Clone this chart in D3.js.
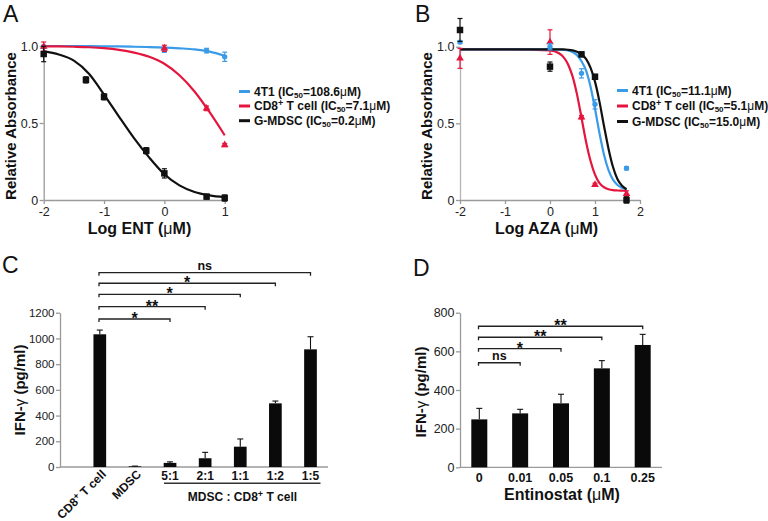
<!DOCTYPE html>
<html><head><meta charset="utf-8">
<script src="https://cdn.jsdelivr.net/npm/d3@7"></script>
<style>
html,body{margin:0;padding:0;background:#fff;}
svg{display:block;font-family:"Liberation Sans",Arial,Helvetica,sans-serif;}
</style></head><body>
<svg id="fig" width="768" height="521"></svg>
<script>
// ================= DATA =================
const seriesNames = ["4T1", "CD8+ T cell", "G-MDSC"];
const icEnt = ["108.6", "7.1", "0.2"];
const icAza = ["11.1", "5.1", "15.0"];

// Panel A (ENT) measured points: log dose, relative absorbance, error
const aX_4T1 = [-2, 0, 0.7, 1];
const aY_4T1 = [0.995, 0.974, 0.97, 0.93];
const aE_4T1 = [0.01, 0.015, 0.015, 0.03];
const aX_CD8 = [-2, 0, 0.7, 1];
const aY_CD8 = [0.996, 0.985, 0.595, 0.357];
const aE_CD8 = [0.03, 0.02, 0.015, 0.01];
const aX_MDSC = [-2, -1.3, -1, -0.3, 0, 0.7, 1];
const aY_MDSC = [0.948, 0.78, 0.67, 0.32, 0.173, 0.022, 0.013];
const aE_MDSC = [0.05, 0.02, 0.02, 0.02, 0.03, 0.015, 0.02];
// Panel A fitted curves
const aCurveX = [-2, -1.75, -1.5, -1.25, -1, -0.75, -0.5, -0.25, 0, 0.25, 0.5, 0.75, 1];
const aCurve4T1 = [1.0, 1.0, 1.0, 0.999, 0.998, 0.997, 0.995, 0.993, 0.99, 0.985, 0.978, 0.963, 0.937];
const aCurveCD8 = [0.998, 0.997, 0.995, 0.992, 0.986, 0.975, 0.957, 0.93, 0.885, 0.81, 0.705, 0.57, 0.42];
const aCurveMDSC = [0.965, 0.945, 0.905, 0.82, 0.685, 0.54, 0.40, 0.275, 0.167, 0.095, 0.052, 0.03, 0.018];

// Panel B (AZA) measured points
const bX_4T1 = [-2, 0, 0.7, 1, 1.7];
const bY_4T1 = [1.03, 1.0, 0.826, 0.624, 0.207];
const bE_4T1 = [0.01, 0.02, 0.03, 0.03, 0.01];
const bX_CD8 = [-2, 0, 0.7, 1, 1.7];
const bY_CD8 = [0.924, 1.03, 0.54, 0.1, 0.04];
const bE_CD8 = [0.065, 0.08, 0.01, 0.01, 0.02];
const bX_MDSC = [-2, 0, 0.7, 1, 1.7];
const bY_MDSC = [1.109, 0.87, 0.95, 0.804, 0.0];
const bE_MDSC = [0.075, 0.03, 0.015, 0.015, 0.02];
// Panel B fitted curves
const bCurveX = [-2, -1, 0, 0.2, 0.3, 0.4, 0.5, 0.6, 0.7, 0.8, 0.9, 1.0, 1.1, 1.2, 1.3, 1.4, 1.5, 1.6, 1.7];
const bCurve4T1 = [0.983, 0.983, 0.982, 0.981, 0.979, 0.975, 0.965, 0.945, 0.905, 0.845, 0.74, 0.595, 0.435, 0.295, 0.195, 0.133, 0.098, 0.08, 0.068];
const bCurveCD8 = [0.983, 0.983, 0.976, 0.957, 0.932, 0.886, 0.808, 0.689, 0.537, 0.382, 0.256, 0.165, 0.11, 0.083, 0.07, 0.064, 0.062, 0.061, 0.06];
const bCurveMDSC = [0.983, 0.983, 0.983, 0.982, 0.982, 0.98, 0.976, 0.967, 0.95, 0.92, 0.863, 0.772, 0.64, 0.483, 0.335, 0.215, 0.135, 0.093, 0.07];

// Panel C (IFN-gamma, co-culture)
const cCats = ["CD8+ T cell", "MDSC", "5:1", "2:1", "1:1", "1:2", "1:5"];
const cVals = [1032, 5, 32, 68, 158, 495, 915];
const cErr = [33, 2, 8, 46, 60, 18, 98];
const cSigTo = ["5:1", "2:1", "1:1", "1:2", "1:5"];
const cSigLabel = ["*", "**", "*", "*", "ns"];
const cSigLevel = [1151, 1247, 1343, 1429, 1511];
const cYTicks = [0, 200, 400, 600, 800, 1000, 1200];

// Panel D (IFN-gamma, entinostat)
const dCats = ["0", "0.01", "0.05", "0.1", "0.25"];
const dVals = [248, 279, 331, 512, 633];
const dErr = [57, 21, 47, 40, 55];
const dSigTo = ["0.01", "0.05", "0.1", "0.25"];
const dSigLabel = ["ns", "*", "**", "**"];
const dSigLevel = [541, 614, 673, 730];
const dYTicks = [0, 200, 400, 600, 800];

// ================= DRAWING =================
const svg = d3.select("#fig");
svg.append("rect").attr("width", 768).attr("height", 521).attr("fill", "#fff");
const colors = ["#3a9be8", "#e4163d", "#111111"];
const symbols = [d3.symbolCircle, d3.symbolTriangle, d3.symbolSquare];
const symSizes = [22, 26, 42];
const AX = "#9a9a9a";
const FONT = '"Liberation Sans", Arial, Helvetica, sans-serif';

function styleAxis(g, fs) {
  g.attr("font-family", FONT).attr("font-size", fs || 12);
  g.select(".domain").attr("stroke", AX).attr("stroke-width", 1.3);
  g.selectAll(".tick line").attr("stroke", AX).attr("stroke-width", 1.3);
  g.selectAll(".tick text").attr("fill", "#222");
}

function panelLetter(txt, x, y) {
  svg.append("text").attr("x", x).attr("y", y).attr("font-size", 23)
    .attr("font-family", FONT).attr("fill", "#111").text(txt);
}

function yTitle(x, y, parts) {
  const t = svg.append("text").attr("transform", `translate(${x},${y}) rotate(-90)`)
    .attr("text-anchor", "middle").attr("font-weight", "bold").attr("font-size", 15)
    .attr("fill", "#111");
  parts.forEach(p => {
    const s = t.append("tspan").text(p.t);
    if (p.normal) s.attr("font-weight", "normal");
  });
}

function xTitle(x, y, parts, fs) {
  const t = svg.append("text").attr("x", x).attr("y", y)
    .attr("text-anchor", "middle").attr("font-weight", "bold").attr("font-size", fs || 16)
    .attr("fill", "#111");
  parts.forEach(p => {
    const s = t.append("tspan").text(p.t);
    if (p.normal) s.attr("font-weight", "normal");
  });
}

function nameTspans(t, name) {
  if (name.indexOf("+") >= 0) {
    const [a, b] = name.split("+");
    t.append("tspan").text(a);
    t.append("tspan").attr("font-size", 9).attr("dy", -4).text("+");
    t.append("tspan").attr("dy", 4).text(b);
  } else {
    t.append("tspan").text(name);
  }
}

function legend(x0, ys, ics) {
  seriesNames.forEach((n, i) => {
    svg.append("line").attr("x1", x0).attr("x2", x0 + 11).attr("y1", ys[i]).attr("y2", ys[i])
      .attr("stroke", colors[i]).attr("stroke-width", 3);
    const t = svg.append("text").attr("x", x0 + 15).attr("y", ys[i] + 4.3)
      .attr("font-size", 12).attr("font-weight", "bold").attr("fill", "#111");
    nameTspans(t, n);
    t.append("tspan").text(" (IC");
    t.append("tspan").attr("font-size", 8).attr("dy", 2).text("50");
    t.append("tspan").attr("dy", -2).text("=" + ics[i]);
    t.append("tspan").attr("font-weight", "normal").text("\u03bc");
    t.append("tspan").text("M)");
  });
}

function drawDose(x, y, curveX, curves, ptsX, ptsY, ptsE, order) {
  const line = d3.line().x(d => x(d[0])).y(d => y(d[1])).curve(d3.curveMonotoneX);
  const g = svg.append("g");
  order.forEach(i => {
    g.append("path").attr("d", line(curveX.map((v, k) => [v, curves[i][k]])))
      .attr("fill", "none").attr("stroke", colors[i]).attr("stroke-width", 2.2);
  });
  order.forEach(i => {
    const data = ptsX[i].map((v, k) => ({ x: v, y: ptsY[i][k], e: ptsE[i][k] }));
    const eg = g.append("g").attr("stroke", colors[i]).attr("stroke-width", 1.2);
    data.forEach(d => {
      const cx = x(d.x), y1 = y(d.y + d.e), y2 = y(d.y - d.e);
      eg.append("line").attr("x1", cx).attr("x2", cx).attr("y1", y1).attr("y2", y2);
      eg.append("line").attr("x1", cx - 2.5).attr("x2", cx + 2.5).attr("y1", y1).attr("y2", y1);
      eg.append("line").attr("x1", cx - 2.5).attr("x2", cx + 2.5).attr("y1", y2).attr("y2", y2);
    });
    g.selectAll(null).data(data).join("path")
      .attr("d", d3.symbol(symbols[i], symSizes[i]))
      .attr("transform", d => `translate(${x(d.x)},${y(d.y)})`)
      .attr("fill", colors[i]);
  });
}

// ---------- Panel A ----------
{
  const x = d3.scaleLinear([-2, 1], [43.7, 224.7]);
  const y = d3.scaleLinear([0, 1], [200, 46]);
  const gy = svg.append("g").attr("transform", `translate(${x(-2)},0)`)
    .call(d3.axisLeft(y).tickValues([0, 0.5, 1]).tickSize(4).tickPadding(1.5).tickSizeOuter(0)
      .tickFormat(d => d === 0 ? "0" : d3.format(".1f")(d)));
  styleAxis(gy, 12.5);
  const gx = svg.append("g").attr("transform", `translate(0,${y(0)})`)
    .call(d3.axisBottom(x).tickValues([-2, -1, 0, 1]).tickSize(4).tickPadding(3).tickSizeOuter(0)
      .tickFormat(d => String(d)));
  styleAxis(gx, 12.5);
  drawDose(x, y, aCurveX, [aCurve4T1, aCurveCD8, aCurveMDSC],
    [aX_4T1, aX_CD8, aX_MDSC], [aY_4T1, aY_CD8, aY_MDSC], [aE_4T1, aE_CD8, aE_MDSC], [0, 1, 2]);
  panelLetter("A", 3, 22);
  yTitle(16, 126, [{ t: "Relative Absorbance" }]);
  xTitle(139.5, 234, [{ t: "Log ENT (" }, { t: "\u03bc", normal: true }, { t: "M)" }]);
  legend(239, [91.5, 106, 120.7], icEnt);
}

// ---------- Panel B ----------
{
  const x = d3.scaleLinear([-2, 2], [460, 640]);
  const y = d3.scaleLinear([0, 1], [200, 46.7]);
  const gy = svg.append("g").attr("transform", `translate(${x(-2)},0)`)
    .call(d3.axisLeft(y).tickValues([0, 0.5, 1]).tickSize(4).tickPadding(1.5).tickSizeOuter(0)
      .tickFormat(d => d === 0 ? "0" : d3.format(".1f")(d)));
  styleAxis(gy, 12.5);
  gy.select(".domain").attr("stroke", "#b5b5b5");
  const gx = svg.append("g").attr("transform", `translate(0,${y(0)})`)
    .call(d3.axisBottom(x).tickValues([-2, -1, 0, 1, 2]).tickSize(4).tickPadding(3).tickSizeOuter(0)
      .tickFormat(d => String(d)));
  styleAxis(gx, 12.5);
  drawDose(x, y, bCurveX, [bCurve4T1, bCurveCD8, bCurveMDSC],
    [bX_4T1, bX_CD8, bX_MDSC], [bY_4T1, bY_CD8, bY_MDSC], [bE_4T1, bE_CD8, bE_MDSC], [1, 0, 2]);
  panelLetter("B", 415, 22);
  yTitle(432, 126, [{ t: "Relative Absorbance" }]);
  xTitle(546.5, 234, [{ t: "Log AZA (" }, { t: "\u03bc", normal: true }, { t: "M)" }]);
  legend(617, [90.5, 106, 121.5], icAza);
}

function drawBars(x, y, cats, vals, errs, bw) {
  const g = svg.append("g");
  cats.forEach((c, i) => {
    const cx = x(c);
    const top = y(vals[i] + errs[i]);
    g.append("line").attr("x1", cx).attr("x2", cx).attr("y1", top).attr("y2", y(vals[i]))
      .attr("stroke", "#111").attr("stroke-width", 1.1);
    g.append("line").attr("x1", cx - 3).attr("x2", cx + 3).attr("y1", top).attr("y2", top)
      .attr("stroke", "#111").attr("stroke-width", 1.1);
  });
  g.selectAll("rect").data(cats).join("rect")
    .attr("x", c => x(c) - bw / 2).attr("width", bw)
    .attr("y", (c, i) => y(vals[i])).attr("height", (c, i) => y(0) - y(vals[i]))
    .attr("fill", "#0a0a0a");
}

function drawSig(x, y, from, tos, labels, levels) {
  const g = svg.append("g");
  tos.forEach((t, i) => {
    const x1 = x(from) - 0.8, x2 = x(t), yy = y(levels[i]);
    g.append("path").attr("d", `M${x1},${yy + 3}V${yy}H${x2}V${yy + 3}`)
      .attr("fill", "none").attr("stroke", "#222").attr("stroke-width", 1.3);
    const isStar = labels[i].indexOf("*") >= 0;
    g.append("text").attr("x", (x1 + x2) / 2).attr("y", isStar ? yy + 5 : yy - 2.5)
      .attr("text-anchor", "middle").attr("font-weight", "bold")
      .attr("font-size", isStar ? 16 : 12.5).attr("fill", "#111").text(labels[i]);
  });
}

// ---------- Panel C ----------
{
  const x = d3.scalePoint(cCats, [99.8, 310.5]);
  const y = d3.scaleLinear([0, 1200], [467, 312.7]);
  svg.append("line").attr("x1", 60).attr("x2", 328).attr("y1", y(0)).attr("y2", y(0))
    .attr("stroke", AX).attr("stroke-width", 1.3);
  const gy = svg.append("g").attr("transform", `translate(60,0)`)
    .call(d3.axisLeft(y).tickValues(cYTicks).tickSize(4).tickPadding(1.5).tickSizeOuter(0)
      .tickFormat(d => String(d)));
  styleAxis(gy, 11.5);
  drawBars(x, y, cCats, cVals, cErr, 12.7);
  drawSig(x, y, cCats[0], cSigTo, cSigLabel, cSigLevel);
  // rotated labels for first two categories
  cCats.slice(0, 2).forEach(c => {
    const t = svg.append("text").attr("transform", `translate(${x(c) + 7},${475}) rotate(-45)`)
      .attr("text-anchor", "end").attr("font-weight", "bold").attr("font-size", 12).attr("fill", "#111");
    nameTspans(t, c);
  });
  cCats.slice(2).forEach(c => {
    svg.append("text").attr("x", x(c)).attr("y", 480).attr("text-anchor", "middle")
      .attr("font-weight", "bold").attr("font-size", 12).attr("fill", "#111").text(c);
  });
  svg.append("line").attr("x1", x(cCats[2]) - 6).attr("x2", x(cCats[6]) + 10)
    .attr("y1", 483.3).attr("y2", 483.3).attr("stroke", "#333").attr("stroke-width", 1.4);
  const t = svg.append("text").attr("x", 242.5).attr("y", 501).attr("text-anchor", "middle")
    .attr("font-weight", "bold").attr("font-size", 12).attr("fill", "#111");
  t.append("tspan").text("MDSC : ");
  nameTspans(t, "CD8+ T cell");
  panelLetter("C", 2, 273);
  yTitle(25, 390, [{ t: "IFN-" }, { t: "\u03b3", normal: true }, { t: " (pg/ml)" }]);
}

// ---------- Panel D ----------
{
  const x = d3.scalePoint(dCats, [479.3, 642.7]);
  const y = d3.scaleLinear([0, 800], [467.3, 312.7]);
  svg.append("line").attr("x1", 460).attr("x2", 662).attr("y1", y(0)).attr("y2", y(0))
    .attr("stroke", AX).attr("stroke-width", 1.3);
  const gy = svg.append("g").attr("transform", `translate(460,0)`)
    .call(d3.axisLeft(y).tickValues(dYTicks).tickSize(4).tickPadding(1.5).tickSizeOuter(0)
      .tickFormat(d => String(d)));
  styleAxis(gy, 12.5);
  drawBars(x, y, dCats, dVals, dErr, 16);
  drawSig(x, y, dCats[0], dSigTo, dSigLabel, dSigLevel);
  dCats.forEach(c => {
    svg.append("text").attr("x", x(c)).attr("y", 481.5).attr("text-anchor", "middle")
      .attr("font-weight", "bold").attr("font-size", 12.5).attr("fill", "#111").text(c);
  });
  xTitle(562, 500, [{ t: "Entinostat (" }, { t: "\u03bc", normal: true }, { t: "M)" }]);
  panelLetter("D", 413, 276);
  yTitle(426, 392, [{ t: "IFN-" }, { t: "\u03b3", normal: true }, { t: " (pg/ml)" }]);
}
</script>
</body></html>
